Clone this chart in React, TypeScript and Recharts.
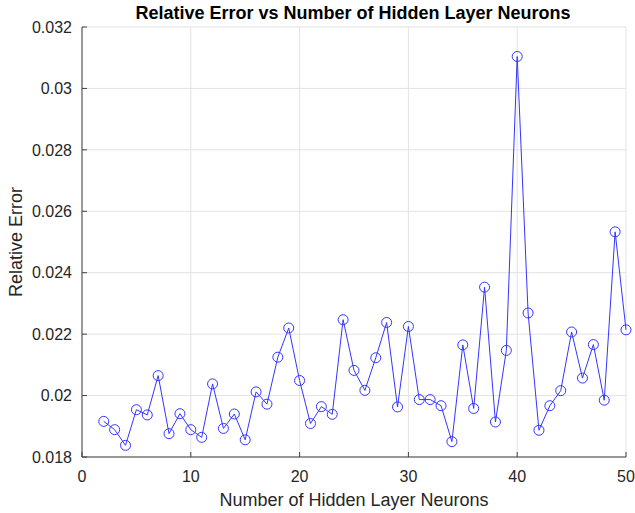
import { CartesianGrid, Line, LineChart, XAxis, YAxis } from "recharts";

const neurons = [
  2, 3, 4, 5, 6, 7, 8, 9, 10, 11, 12, 13, 14, 15, 16, 17, 18, 19, 20, 21, 22, 23, 24, 25, 26,
  27, 28, 29, 30, 31, 32, 33, 34, 35, 36, 37, 38, 39, 40, 41, 42, 43, 44, 45, 46, 47, 48, 49, 50,
];
const relativeError = [
  0.01916, 0.01889, 0.01838, 0.01954, 0.01937, 0.02065, 0.01876, 0.01941, 0.01889, 0.01864,
  0.02038, 0.01893, 0.0194, 0.01856, 0.02012, 0.01972, 0.02125, 0.0222, 0.02049, 0.01909,
  0.01964, 0.01939, 0.02247, 0.02082, 0.02017, 0.02123, 0.02238, 0.01963, 0.02225, 0.01987,
  0.01987, 0.01967, 0.0185, 0.02165, 0.01958, 0.02353, 0.01914, 0.02147, 0.03104, 0.02269,
  0.01887, 0.01967, 0.02016, 0.02207, 0.02057, 0.02166, 0.01985, 0.02533, 0.02214,
];
const xTicks = [0, 10, 20, 30, 40, 50];
const yTicks = [0.018, 0.02, 0.022, 0.024, 0.026, 0.028, 0.03, 0.032];

const data = neurons.map((n, i) => ({ n, err: relativeError[i] }));

const font = "'Liberation Sans', Arial, Helvetica, sans-serif";
const axisColor = "#404040";
const tickStyle = { fontSize: 16, fill: "#262626", fontFamily: font };

export default function App() {
  return (
    <div style={{ position: "absolute", left: 0, top: 0, width: 635, height: 513, background: "#fff" }}>
      <div
        style={{
          position: "absolute",
          top: 3,
          left: 80,
          width: 546,
          textAlign: "center",
          fontFamily: font,
          fontWeight: "bold",
          fontSize: 18,
          color: "#000",
        }}
      >
        Relative Error vs Number of Hidden Layer Neurons
      </div>
      <LineChart width={635} height={513} data={data} margin={{ top: 27, right: 9, left: 0, bottom: 0 }}>
        <CartesianGrid stroke="#e3e3e3" strokeWidth={1} />
        <XAxis
          dataKey="n"
          type="number"
          domain={[0, 50]}
          ticks={xTicks}
          height={56}
          stroke={axisColor}
          tickSize={-5}
          tickMargin={19}
          tick={tickStyle}
          label={{
            value: "Number of Hidden Layer Neurons",
            position: "insideBottom",
            offset: 7,
            style: { fontSize: 18, fill: "#262626", fontFamily: font },
          }}
        />
        <XAxis
          xAxisId="top"
          orientation="top"
          type="number"
          domain={[0, 50]}
          ticks={xTicks}
          height={0}
          stroke={axisColor}
          tickSize={-5}
          tick={false}
        />
        <YAxis
          type="number"
          domain={[0.018, 0.032]}
          ticks={yTicks}
          width={82}
          stroke={axisColor}
          tickSize={-5}
          tickMargin={15}
          tick={tickStyle}
          tickFormatter={(v: number) => String(parseFloat(v.toFixed(3)))}
          label={{
            value: "Relative Error",
            angle: -90,
            position: "insideLeft",
            offset: 16,
            style: { fontSize: 18, fill: "#262626", fontFamily: font, textAnchor: "middle" },
          }}
        />
        <YAxis
          yAxisId="right"
          orientation="right"
          type="number"
          domain={[0.018, 0.032]}
          ticks={yTicks}
          width={0}
          stroke={axisColor}
          tickSize={-5}
          tick={false}
        />
        <Line
          dataKey="err"
          type="linear"
          stroke="#3535ff"
          strokeWidth={1}
          dot={{ r: 5, fill: "none", stroke: "#3535ff", strokeWidth: 1 }}
          activeDot={false}
          isAnimationActive={false}
        />
      </LineChart>
    </div>
  );
}
